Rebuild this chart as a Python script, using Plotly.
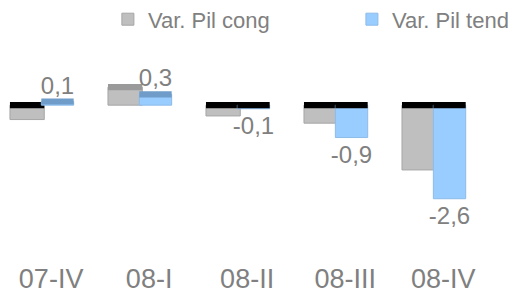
import plotly.graph_objects as go

categories = ["07-IV", "08-I", "08-II", "08-III", "08-IV"]
pil_cong = [-0.4, 0.5, -0.3, -0.5, -1.8]
pil_tend = [0.1, 0.3, -0.1, -0.9, -2.6]
tend_labels = ["0,1", "0,3", "-0,1", "-0,9", "-2,6"]

grey = "#bfbfbf"
blue = "#99ccff"
txt = "#808080"

CAP = 0.17  # visual thickness of the cylinder top face (style)


def caps(values):
    # top face of each cylinder: black for negative bars (at zero),
    # darker shade on top of positive bars
    return [v - CAP / 2 if v > 0 else -CAP / 2 for v in values]


fig = go.Figure()
# grey series
fig.add_trace(go.Bar(
    x=categories, y=pil_cong, name="Var. Pil cong", legend="legend",
    offset=-0.42, width=0.35,
    marker=dict(color=grey, line=dict(color="#a6a6a6", width=1)),
))
fig.add_trace(go.Bar(
    x=categories, y=[CAP] * len(pil_cong), base=caps(pil_cong), showlegend=False,
    offset=-0.42, width=0.35, hoverinfo="skip",
    marker=dict(color=["#9a9a9a" if v > 0 else "#000000" for v in pil_cong], line=dict(width=0)),
))
# blue series
fig.add_trace(go.Bar(
    x=categories, y=pil_tend, name="Var. Pil tend", legend="legend2",
    offset=-0.1, width=0.33,
    marker=dict(color=blue, line=dict(color="#8dbbe8", width=1)),
    text=tend_labels, textposition="outside", cliponaxis=False, constraintext="none",
    textfont=dict(size=24, color=txt),
))
fig.add_trace(go.Bar(
    x=categories, y=[CAP] * len(pil_tend), base=caps(pil_tend), showlegend=False,
    offset=-0.1, width=0.33, hoverinfo="skip",
    marker=dict(color=["#6f9cc8" if v > 0 else "#000000" for v in pil_tend], line=dict(width=0)),
))

legend_common = dict(orientation="h", y=1.199, yanchor="middle", yref="paper",
                     xanchor="left", font=dict(size=22, color=txt),
                     itemwidth=30, bgcolor="rgba(0,0,0,0)")

fig.update_layout(
    width=527, height=294,
    margin=dict(l=0, r=35, t=50, b=50, autoexpand=False),
    paper_bgcolor="white", plot_bgcolor="white",
    barmode="overlay",
    font=dict(family="Liberation Sans, Arial, sans-serif", color=txt),
    showlegend=True,
    legend=dict(x=0.203, **legend_common),
    legend2=dict(x=0.699, **legend_common),
    xaxis=dict(range=[-0.44, 4.58], showgrid=False, showline=False, zeroline=False,
               ticks="", tickfont=dict(size=27, color=txt), ticklabelstandoff=8),
    yaxis=dict(range=[-4.08, 1.31], showgrid=False, showline=False, zeroline=False,
               showticklabels=False, ticks=""),
)

fig.write_html("out.html")
